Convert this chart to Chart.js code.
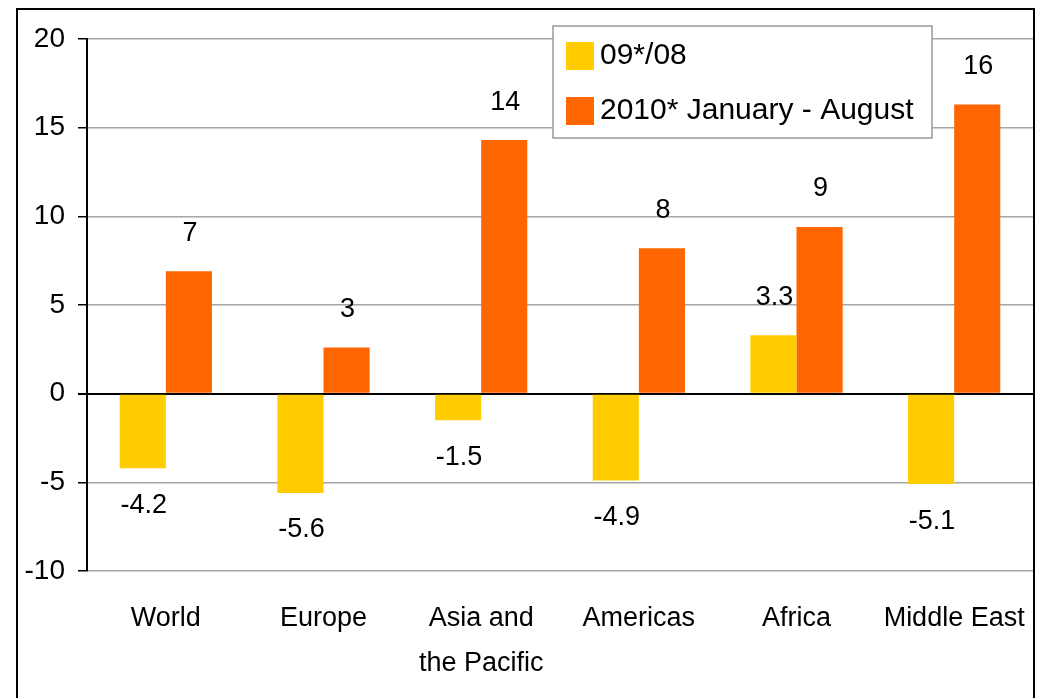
<!DOCTYPE html>
<html>
<head>
<meta charset="utf-8">
<script src="https://cdn.jsdelivr.net/npm/chart.js@4"></script>
<style>
  body { margin: 0; background: #fff; }
  #frame { position: absolute; left: 16px; top: 8px; width: 1015px; height: 720px; border: 2px solid #000; }
  #wrap { position: absolute; left: 0; top: 0; width: 1039px; height: 698px; }
</style>
</head>
<body>
<div id="frame"></div>
<div id="wrap"><canvas id="myChart"></canvas></div>
<script>
const regions = [["World"], ["Europe"], ["Asia and", "the Pacific"], ["Americas"], ["Africa"], ["Middle East"]];
const growth0908 = [-4.2, -5.6, -1.5, -4.9, 3.3, -5.1];
const growth2010 = [6.9, 2.6, 14.3, 8.2, 9.4, 16.3];
const yTicks = [-10, -5, 0, 5, 10, 15, 20];

const FONT = "'Liberation Sans', Arial, sans-serif";

// value labels over / under each bar
const barLabels = {
  id: "barLabels",
  afterDatasetsDraw(chart) {
    const c = chart.ctx;
    c.save();
    c.font = "27px " + FONT;
    c.fillStyle = "#000";
    c.textAlign = "center";
    c.textBaseline = "middle";
    chart.data.datasets.forEach((ds, i) => {
      chart.getDatasetMeta(i).data.forEach((bar, j) => {
        const v = ds.data[j];
        const txt = i === 1 ? String(Math.round(v)) : v.toFixed(1);
        const y = v >= 0 ? bar.y - 38 : bar.y + 37;
        c.fillText(txt, bar.x + 1, y);
      });
    });
    c.restore();
  },
};

// legend box floating inside the plot
const boxLegend = {
  id: "boxLegend",
  afterDraw(chart) {
    const c = chart.ctx;
    c.save();
    c.fillStyle = "#fff";
    c.fillRect(553, 26, 379, 112);
    c.strokeStyle = "#999";
    c.lineWidth = 1.5;
    c.strokeRect(553, 26, 379, 112);
    c.font = "30px " + FONT;
    c.textBaseline = "middle";
    chart.data.datasets.forEach((ds, i) => {
      const y = 56 + i * 55;
      c.fillStyle = ds.backgroundColor;
      c.fillRect(566, y - 14, 28, 28);
      c.fillStyle = "#000";
      c.fillText(ds.label, 600, y);
    });
    c.restore();
  },
};

new Chart(document.getElementById("myChart"), {
  type: "bar",
  data: {
    labels: regions,
    datasets: [
      { label: "09*/08", data: growth0908, backgroundColor: "#ffcc00" },
      { label: "2010* January - August", data: growth2010, backgroundColor: "#ff6600" },
    ],
  },
  options: {
    responsive: true,
    maintainAspectRatio: false,
    animation: false,
    datasets: { bar: { categoryPercentage: 0.585, barPercentage: 1 } },
    layout: { padding: { left: 0, right: 6, top: 39, bottom: 0 } },
    plugins: {
      legend: { display: false },
      tooltip: { enabled: false },
    },
    scales: {
      x: {
        afterFit(scale) {
          scale.height = 127;
          scale.paddingLeft = 0;
          scale.paddingRight = 0;
        },
        offset: true,
        grid: { display: false },
        border: { display: false },
        ticks: {
          color: "#000",
          font: { family: FONT, size: 27, lineHeight: 1.67 },
          maxRotation: 0,
          autoSkip: false,
          padding: 17,
        },
      },
      y: {
        min: -10,
        max: 20,
        afterFit(scale) { scale.width = 87; },
        afterBuildTicks(scale) { scale.ticks = yTicks.map(v => ({ value: v })); },
        border: { display: true, color: "#000", width: 2 },
        grid: {
          color: ctx => (ctx.tick && ctx.tick.value === 0 ? "#000" : "#a6a6a6"),
          lineWidth: ctx => (ctx.tick && ctx.tick.value === 0 ? 2 : 1.5),
          tickColor: "#000",
          tickLength: 9,
        },
        ticks: {
          color: "#000",
          font: { family: FONT, size: 28 },
          padding: 13,
        },
      },
    },
  },
  plugins: [barLabels, boxLegend],
});
</script>
</body>
</html>
